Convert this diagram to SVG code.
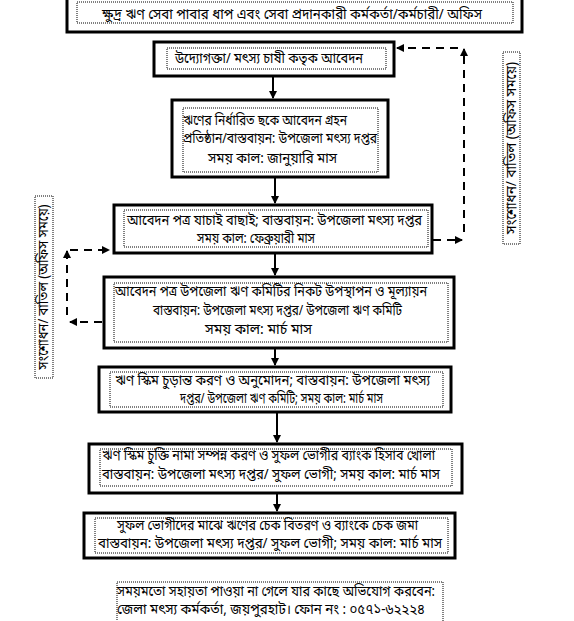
<svg xmlns="http://www.w3.org/2000/svg" width="574" height="621" viewBox="0 0 574 621">
<style>
.box{fill:#fff;stroke:#000;stroke-width:3}
.dot{fill:none;stroke:#000;stroke-width:1;stroke-dasharray:1 1}
text{font-family:"Noto Sans Bengali","Noto Sans","Liberation Sans",sans-serif;font-size:13.5px;fill:#000}
.ln{stroke:#000;stroke-width:2;fill:none}
.dash{stroke:#000;stroke-width:2;fill:none;stroke-dasharray:8 6}
</style>
<defs>
<marker id="ah" markerWidth="8" markerHeight="8" refX="7" refY="4" orient="auto" markerUnits="userSpaceOnUse">
<path d="M0,0 L8,4 L0,8 Z" fill="#000"/>
</marker>
</defs>
<rect width="574" height="621" fill="#fff"/>

<g id="title">
<rect class="box" x="67" y="-3" width="455" height="35" stroke-width="4"/>
<rect class="dot" x="77" y="2" width="436" height="21"/>
<text x="102" y="19" font-size="14.5" textLength="380" lengthAdjust="spacingAndGlyphs">ক্ষুদ্র ঋণ সেবা পাবার ধাপ এবং সেবা প্রদানকারী কর্মকর্তা/কর্মচারী/ অফিস</text>
</g>

<g id="connectors">
<line class="ln" x1="273" y1="77" x2="273" y2="98" marker-end="url(#ah)"/>
<line class="ln" x1="275" y1="178" x2="275" y2="203" marker-end="url(#ah)"/>
<line class="ln" x1="275" y1="253" x2="275" y2="275" marker-end="url(#ah)"/>
<line class="ln" x1="275" y1="349" x2="275" y2="365" marker-end="url(#ah)"/>
<line class="ln" x1="277" y1="413" x2="277" y2="442" marker-end="url(#ah)"/>
<line class="ln" x1="277" y1="494" x2="277" y2="511" marker-end="url(#ah)"/>
<line class="dash" x1="433" y1="240" x2="462" y2="240" marker-end="url(#ah)"/>
<line class="dash" x1="464" y1="232" x2="464" y2="49" marker-end="url(#ah)"/>
<line class="dash" x1="458" y1="48" x2="397" y2="48" marker-end="url(#ah)"/>
<line class="dash" x1="102" y1="322" x2="70" y2="322" marker-end="url(#ah)"/>
<line class="dash" x1="67" y1="315" x2="67" y2="251" marker-end="url(#ah)"/>
<line class="dash" x1="70" y1="250" x2="109" y2="250" marker-end="url(#ah)"/>
</g>

<g id="n1">
<rect class="box" x="154" y="42" width="240" height="34"/>
<rect class="dot" x="167" y="48" width="219" height="21"/>
<text x="175" y="63" textLength="188" lengthAdjust="spacingAndGlyphs">উদ্যোগক্তা/ মৎস্য চাষী কতৃক আবেদন</text>
</g>

<g id="n2">
<rect class="box" x="172" y="100" width="216" height="77"/>
<rect class="dot" x="183" y="108" width="195" height="64"/>
<text x="183" y="125" textLength="164" lengthAdjust="spacingAndGlyphs">ঋণের নির্ধারিত  ছকে আবেদন গ্রহন</text>
<text x="183" y="143" textLength="194" lengthAdjust="spacingAndGlyphs">প্রতিষ্ঠান/বাস্তবায়ন: উপজেলা মৎস্য দপ্তর</text>
<text x="208" y="163" textLength="129" lengthAdjust="spacingAndGlyphs">সময় কাল: জানুয়ারি মাস</text>
</g>

<g id="n3">
<rect class="box" x="114" y="205" width="318" height="48"/>
<rect class="dot" x="124" y="210" width="304" height="37"/>
<text x="127" y="225" textLength="295" lengthAdjust="spacingAndGlyphs">আবেদন  পত্র যাচাই বাছাই; বাস্তবায়ন: উপজেলা মৎস্য দপ্তর</text>
<text x="197" y="243" textLength="118" lengthAdjust="spacingAndGlyphs">সময় কাল: ফেব্রুয়ারী মাস</text>
</g>

<g id="n4">
<rect class="box" x="104" y="277" width="350" height="71"/>
<rect class="dot" x="114" y="283" width="334" height="59"/>
<text x="115" y="296" textLength="312" lengthAdjust="spacingAndGlyphs">আবেদন  পত্র উপজেলা ঋণ কমিটির নিকট উপস্থাপন ও মূল্যায়ন</text>
<text x="153" y="315" textLength="249" lengthAdjust="spacingAndGlyphs">বাস্তবায়ন: উপজেলা মৎস্য দপ্তর/ উপজেলা ঋণ কমিটি</text>
<text x="205" y="334" textLength="107" lengthAdjust="spacingAndGlyphs">সময় কাল:   মার্চ মাস</text>
</g>

<g id="n5">
<rect class="box" x="99" y="367" width="352" height="45"/>
<rect class="dot" x="110" y="372" width="333" height="35"/>
<text x="115" y="385" font-size="13" textLength="315" lengthAdjust="spacingAndGlyphs">ঋণ স্কিম চুড়ান্ত করণ ও অনুমোদন;  বাস্তবায়ন: উপজেলা মৎস্য</text>
<text x="180" y="403" font-size="13" textLength="203" lengthAdjust="spacingAndGlyphs">দপ্তর/ উপজেলা ঋণ কমিটি;   সময় কাল:  মার্চ মাস</text>
</g>

<g id="n6">
<rect class="box" x="89" y="444" width="373" height="49"/>
<rect class="dot" x="100" y="449" width="352" height="37"/>
<text x="102" y="460" textLength="333" lengthAdjust="spacingAndGlyphs">ঋণ স্কিম চুক্তি নামা সম্পন্ন করণ ও সুফল ভোগীর ব্যাংক হিসাব  খোলা</text>
<text x="102" y="479" textLength="338" lengthAdjust="spacingAndGlyphs">বাস্তবায়ন: উপজেলা মৎস্য দপ্তর/ সুফল ভোগী; সময় কাল:  মার্চ মাস</text>
</g>

<g id="n7">
<rect class="box" x="84" y="513" width="371" height="45"/>
<rect class="dot" x="95" y="518" width="353" height="35"/>
<text x="117" y="530" textLength="301" lengthAdjust="spacingAndGlyphs">সুফল ভোগীদের মাঝে ঋণের চেক বিতরণ ও ব্যাংকে চেক জমা</text>
<text x="98" y="548" textLength="344" lengthAdjust="spacingAndGlyphs">বাস্তবায়ন: উপজেলা মৎস্য দপ্তর/ সুফল ভোগী;  সময় কাল:  মার্চ মাস</text>
</g>

<g id="side-right">
<rect class="dot" x="503" y="52" width="17" height="192"/>
<text transform="rotate(-90 511.5 148)" x="425.5" y="152" font-size="12" textLength="172" lengthAdjust="spacingAndGlyphs">সংশোধন/ বাতিল  (অফিস সময়ে)</text>
</g>

<g id="side-left">
<rect class="dot" x="35" y="196" width="18" height="182"/>
<text transform="rotate(-90 44 287)" x="-38.5" y="291" font-size="12" textLength="165" lengthAdjust="spacingAndGlyphs">সংশোধন/ বাতিল  (অফিস সময়ে)</text>
</g>

<g id="footer">
<rect class="dot" x="117" y="582" width="326" height="41"/>
<text x="117" y="596" textLength="318" lengthAdjust="spacingAndGlyphs">সময়মতো সহায়তা পাওয়া না গেলে যার কাছে অভিযোগ করবেন:</text>
<text x="117" y="614" textLength="308" lengthAdjust="spacingAndGlyphs">জেলা মৎস্য কর্মকর্তা, জয়পুরহাট।  ফোন নং : ০৫৭১-৬২২২৪</text>
</g>
</svg>
